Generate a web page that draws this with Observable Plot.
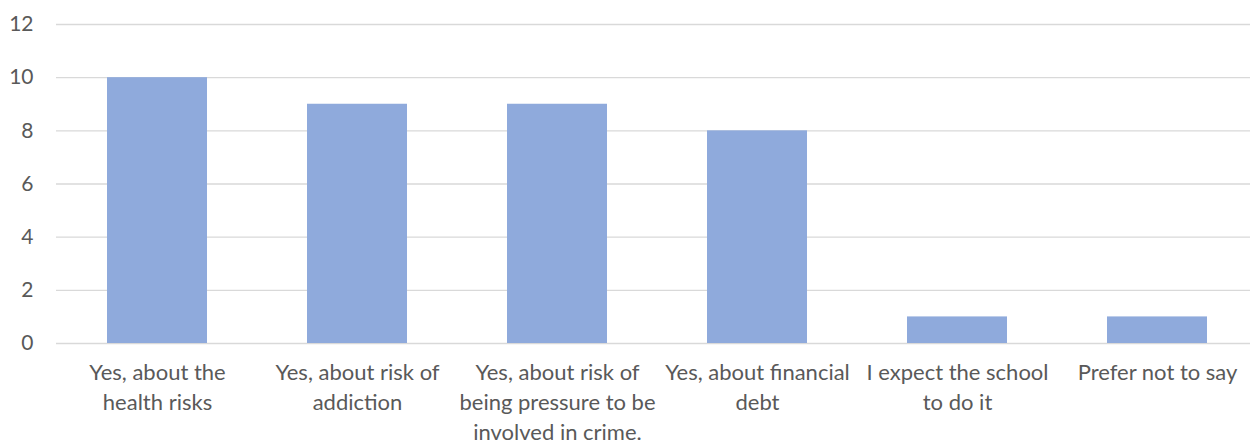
<!DOCTYPE html>
<html>
<head>
<meta charset="utf-8">
<script src="https://cdn.jsdelivr.net/npm/d3@7"></script>
<script src="https://cdn.jsdelivr.net/npm/@observablehq/plot@0.6"></script>
<style>
  html, body { margin: 0; padding: 0; background: #fff; }
  #chart svg { display: block; }
</style>
</head>
<body>
<div id="chart"></div>
<script>
const categories = [
  "Yes, about the\nhealth risks",
  "Yes, about risk of\naddiction",
  "Yes, about risk of\nbeing pressure to be\ninvolved in crime.",
  "Yes, about financial\ndebt",
  "I expect the school\nto do it",
  "Prefer not to say"
];
const counts = [10, 9, 9, 8, 1, 1];
const yTicks = [0, 2, 4, 6, 8, 10, 12];

const data = categories.map((c, i) => ({category: c, count: counts[i]}));

const chart = Plot.plot({
  width: 1250,
  height: 441,
  marginTop: 24,
  marginBottom: 98,
  marginLeft: 56,
  marginRight: 0,
  style: {fontFamily: "Lato, 'Open Sans', sans-serif", color: "#595959", background: "#fff"},
  x: {domain: categories, range: [54.6, 1259.4], paddingInner: 0.5, paddingOuter: 0.25, label: null},
  y: {domain: [0, 12], label: null},
  marks: [
    Plot.ruleY(yTicks, {stroke: "#d9d9d9", strokeWidth: 1.3}),
    Plot.barY(data, {x: "category", y: "count", fill: "#8FAADC"}),
    Plot.axisY({ticks: yTicks, tickSize: 0, tickPadding: 23, fontSize: 21, label: null}),
    Plot.axisX({tickSize: 0, tickPadding: 15, fontSize: 22, lineHeight: 1.36, label: null, textOverflow: null, lineWidth: Infinity})
  ]
});
document.getElementById("chart").appendChild(chart);
</script>
</body>
</html>
